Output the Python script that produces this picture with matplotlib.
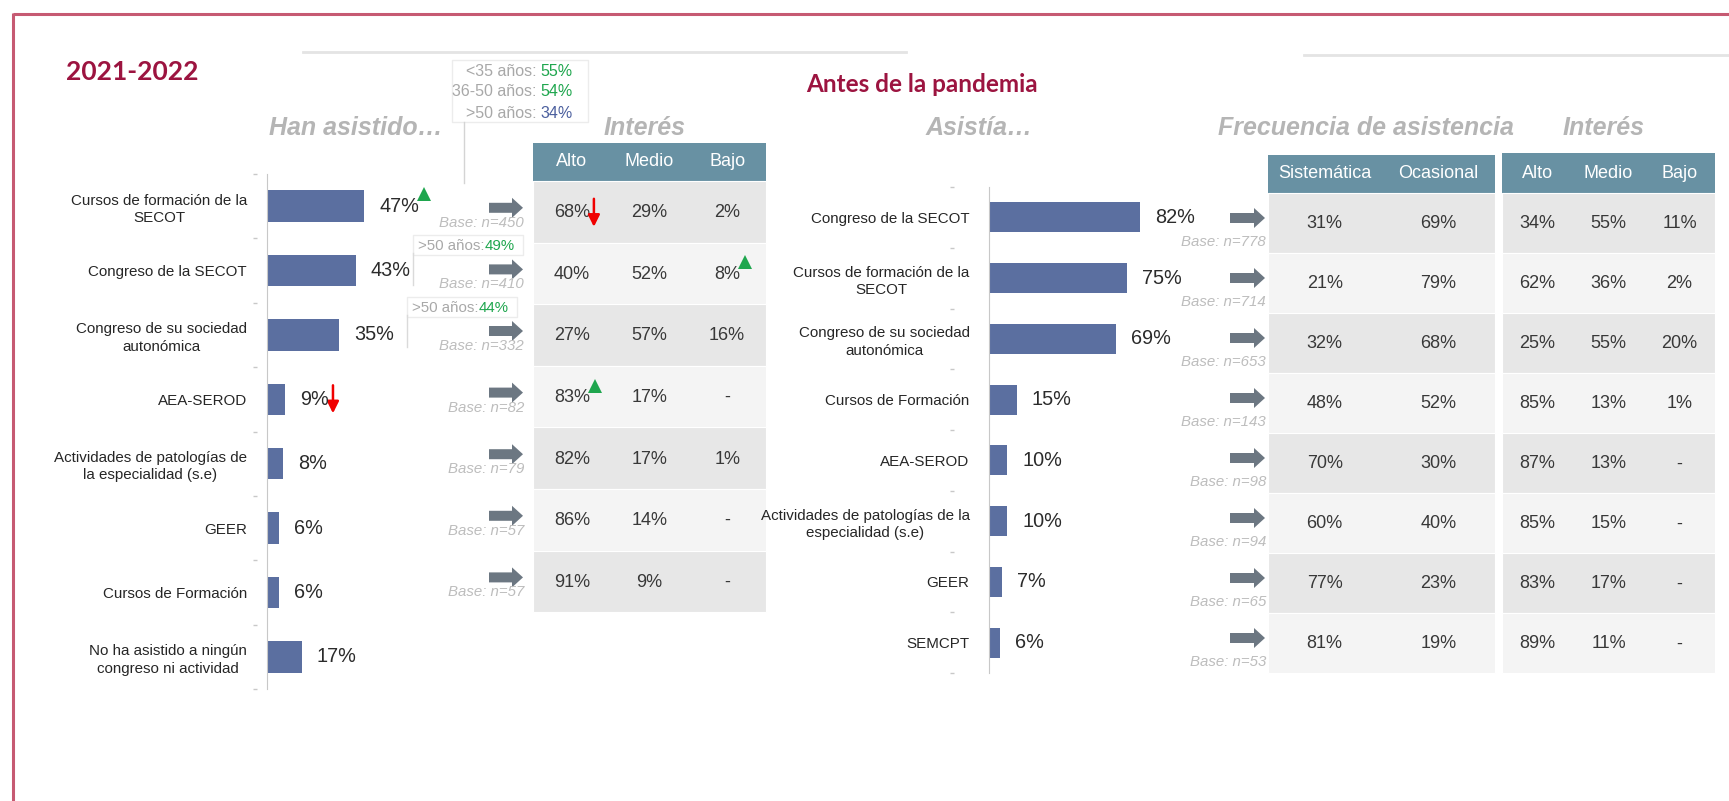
import numpy as np
import matplotlib
matplotlib.use('Agg')
import matplotlib.pyplot as plt
from matplotlib.patches import Rectangle, FancyArrow
from matplotlib import transforms

plt.rcParams['font.family'] = ['Liberation Sans', 'DejaVu Sans']

# ---- data -------------------------------------------------------------
left_labels = ['Cursos de formación de la\nSECOT', 'Congreso de la SECOT',
               'Congreso de su sociedad\nautonómica', 'AEA-SEROD',
               'Actividades de patologías de\nla especialidad (s.e)', 'GEER',
               'Cursos de Formación', 'No ha asistido a ningún\ncongreso ni actividad']
left_values = [47, 43, 35, 9, 8, 6, 6, 17]
left_bases = [450, 410, 332, 82, 79, 57, 57]
left_alto = [68, 40, 27, 83, 82, 86, 91]
left_medio = [29, 52, 57, 17, 17, 14, 9]
left_bajo = [2, 8, 16, None, 1, None, None]

right_labels = ['Congreso de la SECOT', 'Cursos de formación de la\nSECOT',
                'Congreso de su sociedad\nautonómica', 'Cursos de Formación',
                'AEA-SEROD', 'Actividades de patologías de la\nespecialidad (s.e)',
                'GEER', 'SEMCPT']
right_values = [82, 75, 69, 15, 10, 10, 7, 6]
right_bases = [778, 714, 653, 143, 98, 94, 65, 53]
freq_sistematica = [31, 21, 32, 48, 70, 60, 77, 81]
freq_ocasional = [69, 79, 68, 52, 30, 40, 23, 19]
right_alto = [34, 62, 25, 85, 87, 85, 83, 89]
right_medio = [55, 36, 55, 13, 13, 15, 17, 11]
right_bajo = [11, 2, 20, 1, None, None, None, None]

interest_cols = ['Alto', 'Medio', 'Bajo']
freq_cols = ['Sistemática', 'Ocasional']

age_groups = ['<35 años:', '36-50 años:', '>50 años:']
age_values = [55, 54, 34]
age_up = [True, True, False]
callout_rows = [1, 2]          # table rows with a ">50 años" note
callout_values = [49, 44]

bar_trends = [(0, 'up'), (3, 'down')]                       # (bar, dir)
table_trends = [(0, 0, 'down'), (1, 2, 'up'), (3, 0, 'up')]  # (row, col, dir)

# ---- style ------------------------------------------------------------
W, H = 1729, 801
BAR = '#5b6fa0'
HEAD = '#6891a3'
DARK = '#e7e7e7'
LIGHT = '#f4f4f4'
GREEN = '#1fa64e'
BLUE = '#4b5f9e'
RED = '#f00000'
TITLE_GREY = '#b5b5b5'
WINE = '#9c1440'
ARROW = '#6c7782'

fig = plt.figure(figsize=(W / 100, H / 100), dpi=100)
bg = fig.add_axes([0, 0, 1, 1])
bg.set_xlim(0, W)
bg.set_ylim(H, 0)
bg.axis('off')


def px_axes(x0, y0, x1, y1):
    return fig.add_axes([x0 / W, 1 - y1 / H, (x1 - x0) / W, (y1 - y0) / H])


def pct(v):
    return '-' if v is None else f'{v}%'


def bar_panel(x_axis, y_top, y_bot, px_pct, labels, values, dash_x):
    ax = px_axes(x_axis, y_top, x_axis + 100 * px_pct, y_bot)
    n = len(values)
    pos = np.arange(n)
    ax.barh(pos, values, height=0.49, color=BAR)
    ax.set_xlim(0, 100)
    ax.set_ylim(n - 0.5, -0.5)
    ax.patch.set_alpha(0)
    for s in ['top', 'right', 'bottom']:
        ax.spines[s].set_visible(False)
    ax.spines['left'].set_color('#c8c8c8')
    ax.set_xticks([])
    ax.set_yticks(pos)
    ax.set_yticklabels(labels, fontsize=10.9, color='#262626', linespacing=1.3)
    for t in ax.get_yticklabels():
        t.set_multialignment('center')
    ax.tick_params(axis='y', length=0, pad=14)
    trans = transforms.blended_transform_factory(bg.transData, ax.transData)
    ax.plot(np.full(n + 1, dash_x), np.arange(n + 1) - 0.5, ls='none', marker='_',
            ms=3, mew=1, color='#c8c8c8', transform=trans, clip_on=False)
    texts = []
    for i, v in enumerate(values):
        texts.append(ax.annotate(pct(v), (v, i), xytext=(15, 0), textcoords='offset pixels',
                                 ha='left', va='center', fontsize=14.3, color='#2b2b2b'))
    return ax, texts


def table(x0, x1, head_top, head_bot, row_h, headers, cols):
    ncol, nrow = len(headers), len(cols[0])
    cw = (x1 - x0) / ncol
    bg.add_patch(Rectangle((x0, head_top), x1 - x0, head_bot - head_top, color=HEAD, lw=0))
    for j, h in enumerate(headers):
        bg.text(x0 + cw * (j + 0.5), (head_top + head_bot) / 2, h, color='white',
                fontsize=13, ha='center', va='center')
    grid = []
    for i in range(nrow):
        y = head_bot + i * row_h
        bg.add_patch(Rectangle((x0, y), x1 - x0, row_h, facecolor=DARK if i % 2 == 0 else LIGHT,
                               edgecolor='white', lw=0.8))
        row = []
        for j in range(ncol):
            row.append(bg.text(x0 + cw * (j + 0.5), y + row_h / 2 + 1, pct(cols[j][i]),
                               fontsize=13, ha='center', va='center', color='#383838'))
        grid.append(row)
    return [head_bot + (i + 0.5) * row_h for i in range(nrow)], grid


def arrows_and_bases(centers, bases, x0, x1, dy_arrow, dy_base):
    for c, b in zip(centers, bases):
        bg.add_patch(FancyArrow(x0, c + dy_arrow, x1 - x0, 0, width=10, head_width=20,
                                head_length=11, length_includes_head=True, color=ARROW, lw=0))
        bg.text(x1 + 1, c + dy_base, f'Base: n={b}', fontsize=10.8, style='italic',
                color='#bdbdbd', ha='right', va='center')


def title(x, y, s):
    bg.text(x, y, s, fontsize=18, fontweight='bold', style='italic', color=TITLE_GREY,
            ha='center', va='center')


# ---- frame / headings -------------------------------------------------
bg.plot([13, W], [14, 14], color='#c65a72', lw=2.2, solid_capstyle='butt')
bg.plot([13, 13], [13, H], color='#c65a72', lw=2.2, solid_capstyle='butt')
bg.plot([303, 906], [52, 52], color='#e4e4e4', lw=2)
bg.plot([1304, W], [55, 55], color='#e4e4e4', lw=2)

bg.text(66, 72, '2021-2022', fontsize=19, fontweight='bold', family=['Lato', 'DejaVu Sans'],
        color=WINE, ha='left', va='center')
bg.text(806, 84, 'Antes de la pandemia', fontsize=17.5, fontweight='bold',
        family=['Lato', 'DejaVu Sans'], color=WINE, ha='left', va='center')

title(356, 128, 'Han asistido…')
title(645, 128, 'Interés')
title(979, 128, 'Asistía…')
title(1366, 128, 'Frecuencia de asistencia')
title(1604, 128, 'Interés')

# age note
bg.add_patch(Rectangle((452, 60), 136, 62, facecolor='white', edgecolor='#ececec', lw=1))
bg.plot([464, 464], [122, 183], color='#d4d4d4', lw=1)
for k, (g, v, up) in enumerate(zip(age_groups, age_values, age_up)):
    y = 71 + 21 * k
    bg.text(537, y, g, fontsize=11.5, color='#a8a8a8', ha='right', va='center')
    bg.text(540, y, f'{v}%', fontsize=11.5, color=GREEN if up else BLUE, ha='left', va='center')

# ---- left block -------------------------------------------------------
axL, left_texts = bar_panel(266.5, 174, 689, 2.08, left_labels, left_values, 255)
centersL, gridL = table(533, 766, 143, 181, 61.6, interest_cols, [left_alto, left_medio, left_bajo])
arrows_and_bases(centersL, left_bases, 489, 523, -4, 11)

box_right = [523, 517]
for r, v, xr in zip(callout_rows, callout_values, box_right):
    c = centersL[r]
    bg.add_patch(Rectangle((xr - 110, c - 38), 110, 20, facecolor='white', edgecolor='#ececec', lw=1))
    bg.plot([xr - 110, xr - 110], [c - 20, c + 12], color='#dadada', lw=1)
    bg.text(xr - 38, c - 27, '>50 años:', fontsize=10.8, color='#a8a8a8', ha='right', va='center')
    bg.text(xr - 38, c - 27, f'{v}%', fontsize=10.8, color=GREEN, ha='left', va='center')

# ---- right block ------------------------------------------------------
axR, right_texts = bar_panel(989, 187, 673, 1.84, right_labels, right_values, 952)
centersR, _ = table(1268, 1495, 155, 193, 60, freq_cols, [freq_sistematica, freq_ocasional])
table(1502, 1715, 153, 193, 60, interest_cols, [right_alto, right_medio, right_bajo])
arrows_and_bases(centersR, right_bases, 1230, 1265, -5, 19)

# ---- trend markers (placed next to rendered labels) ------------------
fig.canvas.draw()
inv = bg.transData.inverted()


def text_box(t):
    bb = t.get_window_extent()
    (x0, y0), (x1, y1) = inv.transform([[bb.x0, bb.y0], [bb.x1, bb.y1]])
    return x1, (y0 + y1) / 2


def mark(t, kind):
    xe, yc = text_box(t)
    if kind == 'up':
        bg.plot(xe + 5, yc - 12, marker='^', ms=9.5, color=GREEN, mew=0)
    else:
        bg.annotate('', xy=(xe + 4, yc + 14), xytext=(xe + 4, yc - 14),
                    arrowprops=dict(arrowstyle='-|>,head_width=0.35,head_length=0.7',
                                    color=RED, lw=1.8, shrinkA=0, shrinkB=0))


for i, k in bar_trends:
    mark(left_texts[i], k)
for r, c, k in table_trends:
    mark(gridL[r][c], k)

fig.savefig('out.png', dpi=100, facecolor='white')
